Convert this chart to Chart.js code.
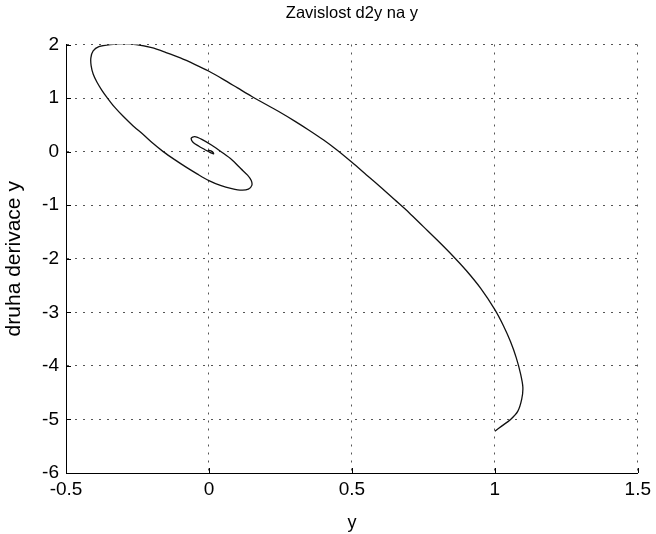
<!DOCTYPE html>
<html>
<head>
<meta charset="utf-8">
<script src="https://cdn.jsdelivr.net/npm/chart.js@4/dist/chart.umd.min.js"></script>
<style>
  html, body { margin: 0; padding: 0; background: #fff; }
  #wrap { width: 656px; height: 534px; }
</style>
</head>
<body>
<div id="wrap"><canvas id="c" width="656" height="534"></canvas></div>
<script>
// ---- data ----
const titleText = "Zavislost d2y na y";
const xLabel = "y";
const yLabel = "druha derivace y";
const xTicks = [-0.5, 0, 0.5, 1, 1.5];
const yTicks = [-6, -5, -4, -3, -2, -1, 0, 1, 2];

// trajectory (in time order): y values (horizontal)
const yVals = [
  1.000, 1.025, 1.055, 1.080, 1.094, 1.098, 1.090, 1.075, 1.055, 1.030,
  1.000, 0.950, 0.900, 0.850, 0.800, 0.750, 0.700, 0.650, 0.600, 0.550,
  0.500, 0.450, 0.400, 0.350, 0.300, 0.250, 0.200, 0.150, 0.100, 0.050,
  0.000, -0.050, -0.100, -0.150, -0.200, -0.255, -0.300, -0.345, -0.385, -0.405,
  -0.413, -0.412, -0.405, -0.392, -0.375, -0.355, -0.330, -0.300, -0.265, -0.228,
  -0.195, -0.160, -0.120, -0.080, -0.040, 0.000, 0.040, 0.080, 0.115, 0.138,
  0.150, 0.148, 0.135, 0.112, 0.080, 0.045, 0.010, -0.025, -0.050, -0.062,
  -0.055, -0.035, -0.015, 0.005, 0.016, 0.014, 0.004, -0.004, 0.000
];
// trajectory (in time order): second derivative values (vertical)
const d2yVals = [
  -5.22, -5.12, -5.00, -4.85, -4.62, -4.40, -4.15, -3.85, -3.55, -3.25,
  -2.95, -2.55, -2.22, -1.93, -1.66, -1.40, -1.14, -0.90, -0.66, -0.43,
  -0.20, 0.02, 0.22, 0.40, 0.57, 0.73, 0.88, 1.03, 1.19, 1.35,
  1.50, 1.63, 1.75, 1.85, 1.94, 2.00, 2.01, 2.00, 1.96, 1.88,
  1.75, 1.60, 1.45, 1.30, 1.15, 1.00, 0.83, 0.66, 0.48, 0.31,
  0.15, 0.00, -0.15, -0.29, -0.42, -0.54, -0.63, -0.69, -0.72, -0.70,
  -0.63, -0.54, -0.44, -0.32, -0.15, -0.01, 0.12, 0.23, 0.28, 0.25,
  0.17, 0.10, 0.04, -0.02, -0.04, -0.01, 0.02, 0.01, 0.00
];

const points = yVals.map((v, i) => ({ x: v, y: d2yVals[i] }));

const FONT = "'Liberation Sans', Arial, sans-serif";

const titlePlugin = {
  id: 'centeredTitle',
  afterDraw(chart) {
    const { ctx, chartArea } = chart;
    ctx.save();
    ctx.fillStyle = '#000';
    ctx.font = "16.5px " + FONT;
    ctx.textAlign = 'center';
    ctx.textBaseline = 'middle';
    ctx.fillText(titleText, (chartArea.left + chartArea.right) / 2, 13);
    ctx.restore();
  }
};

const inwardTicks = {
  id: 'inwardTicks',
  afterDraw(chart) {
    const { ctx, chartArea, scales } = chart;
    ctx.save();
    ctx.strokeStyle = '#000';
    ctx.lineWidth = 1;
    ctx.beginPath();
    xTicks.forEach(v => {
      const px = Math.round(scales.x.getPixelForValue(v)) + 0.5;
      ctx.moveTo(px, chartArea.bottom);
      ctx.lineTo(px, chartArea.bottom - 5);
    });
    yTicks.forEach(v => {
      const py = Math.round(scales.y.getPixelForValue(v)) + 0.5;
      ctx.moveTo(chartArea.left, py);
      ctx.lineTo(chartArea.left + 5, py);
    });
    ctx.stroke();
    ctx.restore();
  }
};

const whiteBg = {
  id: 'whiteBg',
  beforeDraw(chart) {
    const { ctx, width, height } = chart;
    ctx.save();
    ctx.fillStyle = '#fff';
    ctx.fillRect(0, 0, width, height);
    ctx.restore();
  }
};

new Chart(document.getElementById('c'), {
  type: 'scatter',
  data: {
    datasets: [{
      data: points,
      showLine: true,
      borderColor: '#111',
      borderWidth: 1.3,
      pointRadius: 0,
      tension: 0.3,
      fill: false
    }]
  },
  options: {
    responsive: false,
    animation: false,
    devicePixelRatio: 1,
    layout: { padding: { left: 0, right: 18, top: 44.5, bottom: 0 } },
    plugins: {
      legend: { display: false },
      tooltip: { enabled: false },
      title: { display: false }
    },
    scales: {
      x: {
        type: 'linear',
        min: -0.5, max: 1.5,
        afterBuildTicks: s => { s.ticks = xTicks.map(v => ({ value: v })); },
        afterFit: s => { s.height = 61; },
        ticks: {
          color: '#000',
          font: { family: FONT, size: 19 },
          padding: 5,
          maxRotation: 0,
          callback: v => String(v)
        },
        grid: { color: '#555', lineWidth: 1, drawTicks: false },
        border: { display: true, color: '#000', width: 1, dash: [2, 6] },
        title: {
          display: true, text: xLabel, color: '#000',
          font: { family: FONT, size: 18 },
          padding: { top: 3, bottom: 0 }
        }
      },
      y: {
        type: 'linear',
        min: -6, max: 2,
        afterBuildTicks: s => { s.ticks = yTicks.map(v => ({ value: v })); },
        afterFit: s => { s.width = 66; },
        ticks: {
          color: '#000',
          font: { family: FONT, size: 19 },
          padding: 7,
          callback: v => String(v)
        },
        grid: { color: '#555', lineWidth: 1, drawTicks: false },
        border: { display: true, color: '#000', width: 1, dash: [2, 6] },
        title: {
          display: true, text: yLabel, color: '#000',
          font: { family: FONT, size: 21 },
          padding: { top: 2, bottom: 0 }
        }
      }
    }
  },
  plugins: [whiteBg, inwardTicks, titlePlugin]
});
</script>
</body>
</html>
